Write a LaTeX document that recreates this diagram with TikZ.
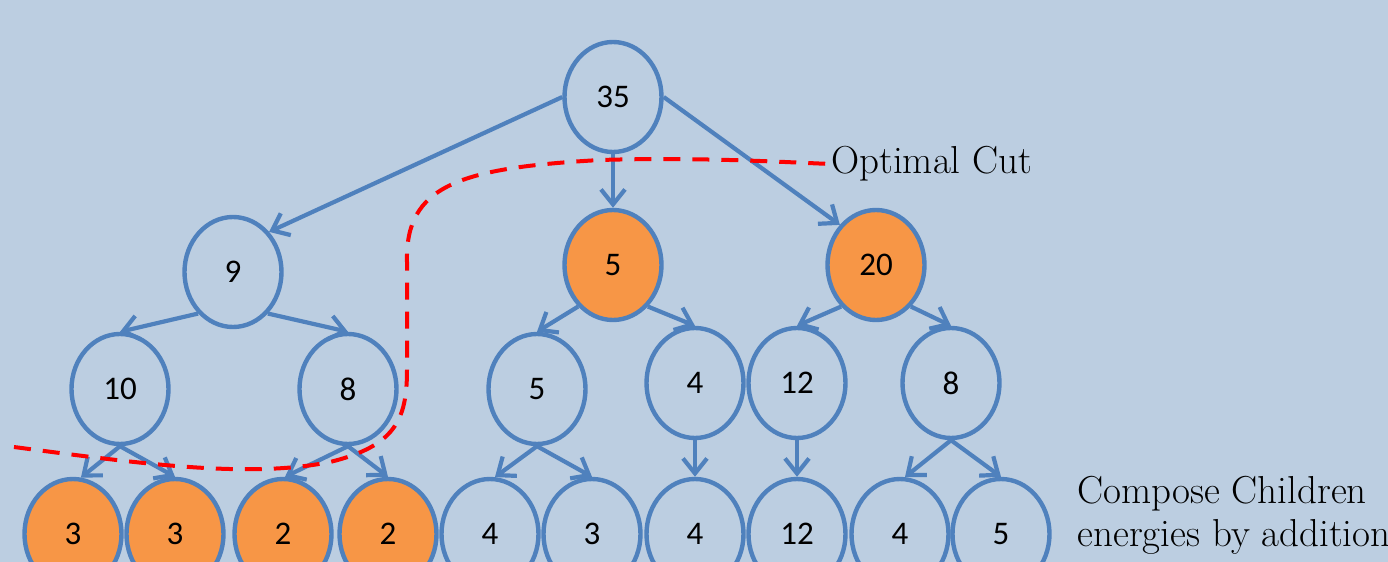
\documentclass[tikz,border=0pt]{standalone}
\usepackage{fontspec}
\newfontfamily\numfont{Carlito}
\usetikzlibrary{arrows.meta,shapes.geometric}
\definecolor{bgc}{RGB}{188,206,225}
\definecolor{edgeblue}{RGB}{79,129,189}
\definecolor{fillorange}{RGB}{247,150,70}
\definecolor{cutred}{RGB}{255,0,0}
\begin{document}
\begin{tikzpicture}[x=0.5pt,y=-0.5pt,
  tnode/.style={ellipse,draw=edgeblue,line width=2.2pt,fill=bgc,minimum width=48.5pt,minimum height=55pt,inner sep=0pt,font=\numfont\fontsize{16.5}{18}\selectfont},
  hot/.style={tnode,fill=fillorange},
  edge/.style={draw=edgeblue,line width=2.1pt,-{Straight Barb[length=7.5pt,width=12pt]}},
  cut/.style={draw=cutred,line width=2pt,dash pattern=on 8.5pt off 6pt},
  lbl/.style={font=\fontsize{19.5}{21.5}\selectfont,inner sep=0pt,align=left}]
\fill[bgc] (0,0) rectangle (1388,562);
\clip (0,0) rectangle (1388,562);
% nodes
\node[tnode] (r) at (613,97) {35};
\node[tnode] (a) at (233,272) {9};
\node[hot] (b) at (613,265) {5};
\node[hot] (c) at (876,265) {20};
\node[tnode] (a1) at (120,389) {10};
\node[tnode] (a2) at (348,389) {8};
\node[tnode] (b1) at (537,389) {5};
\node[tnode] (b2) at (695,383) {4};
\node[tnode] (c1) at (797,383) {12};
\node[tnode] (c2) at (951,383) {8};
\node[hot] (l1) at (73,534) {3};
\node[hot] (l2) at (175,534) {3};
\node[hot] (l3) at (283,534) {2};
\node[hot] (l4) at (388,534) {2};
\node[tnode] (l5) at (490,534) {4};
\node[tnode] (l6) at (592,534) {3};
\node[tnode] (l7) at (695,534) {4};
\node[tnode] (l8) at (797,534) {12};
\node[tnode] (l9) at (900,534) {4};
\node[tnode] (l10) at (1001,534) {5};
% edges
\draw[edge] (r.180) -- (a.48);
\draw[edge] (r.south) -- (b.north);
\draw[edge] (r.east) -- (c.132);
\draw[edge] (a.230) -- (a1.north);
\draw[edge] (a.-50) -- (a2.north);
\draw[edge] (b.230) -- (b1.north);
\draw[edge] (b.-50) -- (b2.north);
\draw[edge] (c.230) -- (c1.north);
\draw[edge] (c.-50) -- (c2.north);
\draw[edge] (a1.south) -- (l1.82);
\draw[edge] (a1.south) -- (l2.north);
\draw[edge] (a2.south) -- (l3.88);
\draw[edge] (a2.south) -- (l4.north);
\draw[edge] (b1.south) -- (l5.85);
\draw[edge] (b1.south) -- (l6.north);
\draw[edge] (b2.south) -- (l7.north);
\draw[edge] (c1.south) -- (l8.north);
\draw[edge] (c2.south) -- (l9.85);
\draw[edge] (c2.south) -- (l10.north);
% labels
\node[lbl,anchor=west] (oc) at (831,164) {Optimal Cut};
\node[lbl,anchor=north west] (cc) at (1077,476) {Compose Children\\energies by addition};
% optimal cut curve
\draw[cut] (14,447) .. controls (150,465) and (250,478) .. (330,462)
  .. controls (395,446) and (407,420) .. (407,370) -- (407,262)
  .. controls (405,185) and (460,168) .. (600,160)
  .. controls (700,157) and (780,162) .. (oc.west);
\end{tikzpicture}
\end{document}
